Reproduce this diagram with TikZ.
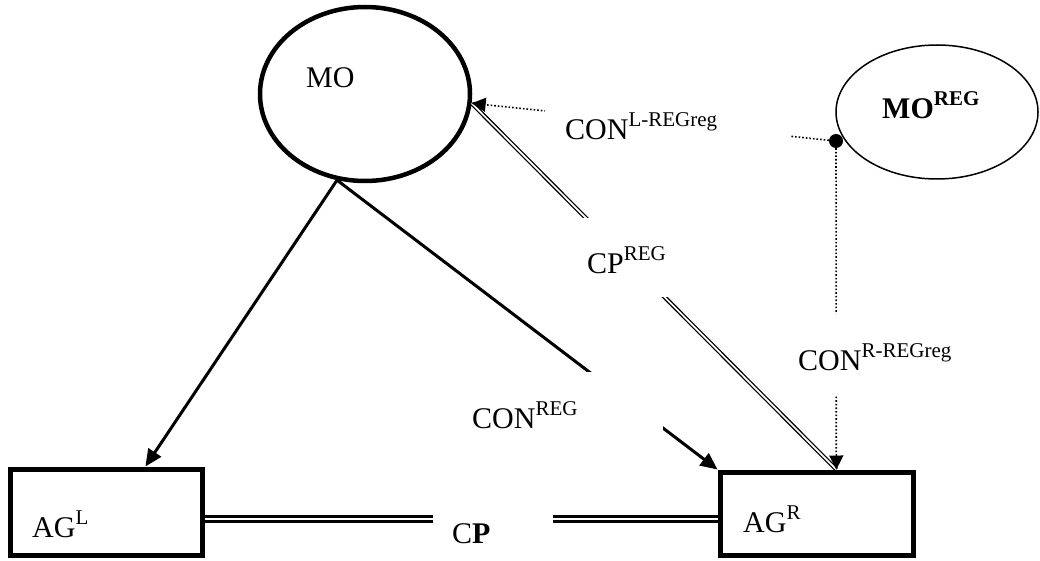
\documentclass[tikz,border=0pt]{standalone}
\usepackage{fontspec}
\setmainfont{Liberation Serif}
\usetikzlibrary{shapes.geometric,arrows.meta,calc}
% raised, smaller superscript text
\newcommand\supx[1]{\raisebox{13pt}{\fontsize{21pt}{21pt}\selectfont #1}}
\begin{document}
\begin{tikzpicture}[x=1pt,y=-1pt,
  txt/.style={inner sep=0pt, font=\fontsize{30pt}{30pt}\selectfont},
  lbl/.style={txt, fill=white, anchor=base west},
  agbox/.style={draw, line width=5pt, rectangle, inner sep=0pt},
  solidarrow/.style={line width=3pt, -{Triangle[length=17pt,width=15pt]}},
  dotline/.style={line width=1.6pt, dash pattern=on 1.6pt off 2pt},
  dotarrow/.style={dotline, -{Triangle[length=14pt,width=14pt]}},
  dbl/.style={double, line width=1.3pt, double distance=1.7pt},
  dblthick/.style={double, line width=2.5pt, double distance=2.8pt}]

\useasboundingbox (0,0) rectangle (1040,561);

% main shapes
\node[ellipse, draw, line width=4.5pt, minimum width=210pt, minimum height=174pt, inner sep=0pt] (mo) at (365,94) {};
\node[ellipse, draw, line width=1.5pt, minimum width=202pt, minimum height=134pt, inner sep=0pt] (moreg) at (937,112) {};
\node[agbox, minimum width=192pt, minimum height=86pt] (agl) at (106,512) {};
\node[agbox, minimum width=193pt, minimum height=83pt] (agr) at (816.5,513.5) {};
\node[circle, fill, minimum size=14pt, inner sep=0pt] (dot) at (836,141) {};

% texts inside the shapes
\node[txt, anchor=base west] (motext) at (306,88) {MO};
\node[txt, anchor=base west] (moregtext) at (882,119) {\bfseries MO\supx{REG}};
\node[txt, anchor=base west] (agltext) at (32,537) {AG\supx{L}};
\node[txt, anchor=base west] (agrtext) at (743,532) {AG\supx{R}};

% connection points
\coordinate (mojoin) at (mo.-5);
\coordinate (agjoin) at ($(agr.north west)!0.6!(agr.north east)$);
\coordinate (aglin) at ($(agl.north west)!0.7!(agl.north east)$);

% connectors
\draw[solidarrow] (mo.252) -- (aglin);
\draw[solidarrow] (mo.252) -- (agr.north west);
\draw[dbl] (mojoin) -- (agjoin);
\draw[dblthick] ([yshift=-7pt]agl.east) -- ([yshift=-5.5pt]agr.west);
\draw[dotarrow] (dot.center) -- (mojoin);
\draw[dotarrow] (dot.center) -- (agjoin);

% connector labels on white ground
\node[lbl, text height=35pt, text depth=12pt] (conl) at (545,140) {\makebox[245pt][l]{\hspace*{20pt}CON\supx{L-REGreg}}};
\node[lbl, text height=55pt, text depth=24pt] (cpreg) at (577,273) {\makebox[101pt][l]{\hspace*{10pt}CP\supx{REG}}};
\node[lbl, text height=56pt, text depth=17pt] (conreg) at (462,428) {\makebox[201pt][l]{\hspace*{10pt}CON\supx{REG}}};
\node[lbl, text height=56pt, text depth=25pt] (conr) at (788,370) {\makebox[178pt][l]{\hspace*{10pt}CON\supx{R-REGreg}}};
\node[lbl, text height=38pt, text depth=12pt] (cp) at (433,543) {\makebox[120pt][l]{\hspace*{19pt}C\textbf{P}}};
\end{tikzpicture}
\end{document}
